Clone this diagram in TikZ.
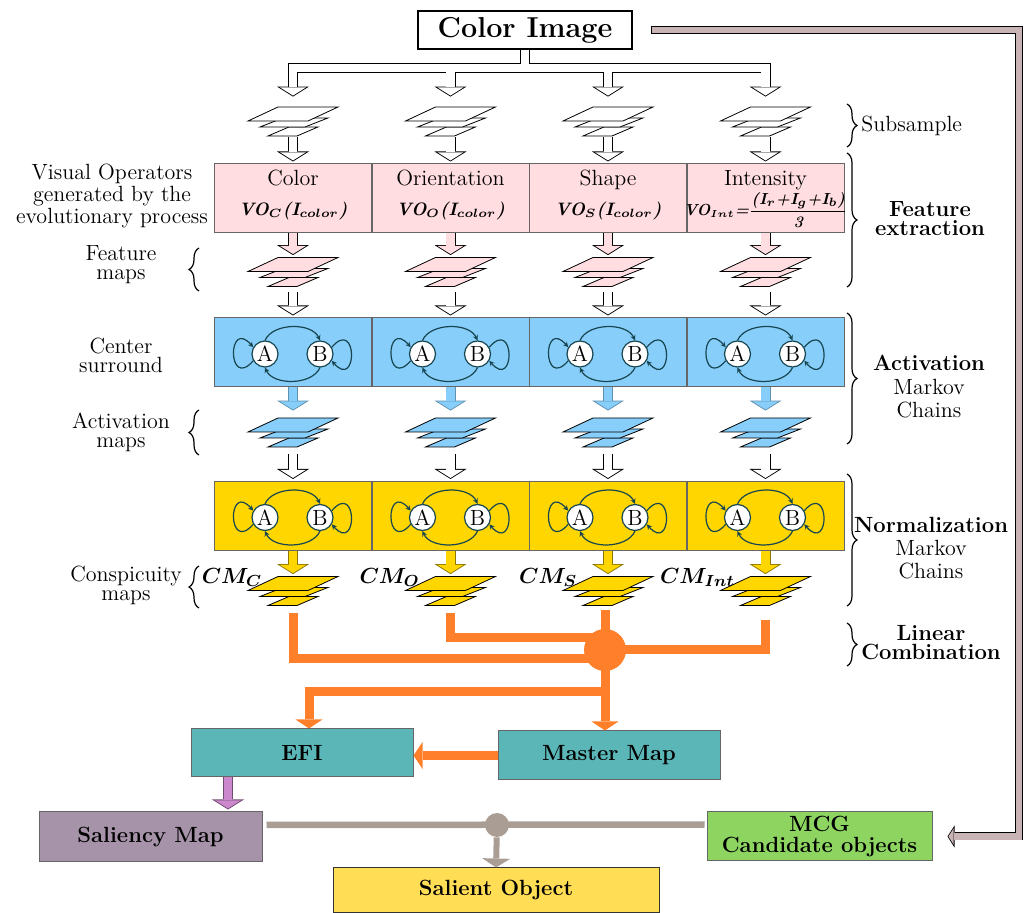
\documentclass[tikz,border=0pt]{standalone}
\usepackage{xcolor}
\usepackage{amsmath, amssymb}
\usepackage{tikz}
\usetikzlibrary{arrows.meta, positioning, decorations.pathreplacing}

\definecolor{fepink}{RGB}{255,221,224}
\definecolor{acblue}{RGB}{135,206,250}
\definecolor{nmgold}{RGB}{255,214,0}
\definecolor{lcorange}{RGB}{255,127,42}
\definecolor{mkteal}{RGB}{24,70,80}
\definecolor{mapteal}{RGB}{91,182,183}
\definecolor{salmauve}{RGB}{166,147,170}
\definecolor{mcggreen}{RGB}{141,212,97}
\definecolor{objyellow}{RGB}{255,221,85}
\definecolor{fusegray}{RGB}{170,157,148}
\definecolor{feedrose}{RGB}{200,180,180}
\definecolor{efipurple}{RGB}{204,136,204}

\tikzset{
  lbl/.style={font=\fontsize{11}{9.5}\selectfont, align=center, inner sep=0pt},
  opbox/.style={draw=black!60, line width=0.5pt, fill=#1, minimum width=78.5pt, minimum height=34.5pt, inner sep=0pt},
  mapbox/.style={draw=black!60, line width=0.5pt, fill=#1, minimum width=111pt, minimum height=24.5pt, inner sep=0pt, align=center, font=\fontsize{11}{10.5}\selectfont\bfseries},
  stk/.style={minimum width=45pt, minimum height=15pt, inner sep=0pt},
  st/.style={circle, draw=mkteal, line width=0.6pt, fill=white, minimum size=13pt, inner sep=0pt, font=\fontsize{11}{11}\selectfont},
  mk/.style={draw=mkteal, line width=0.6pt, -{Stealth[length=2.6pt,width=2.6pt]}},
  hout/.style={draw=#1, line width=5pt, shorten >=1pt, -{Triangle[length=5pt,width=16pt,line width=0pt]}},
  hout/.default=black,
  hin/.style={draw=#1, line width=4.1pt, shorten >=1.53pt, -{Triangle[length=4.02pt,width=12.86pt,line width=0pt]}},
  fbout/.style={draw=black, line width=4pt, -{Triangle[length=3.5pt,width=11pt,line width=0pt]}},
  fbin/.style={draw=feedrose, line width=3.2pt, shorten <=0.4pt, shorten >=0.47pt, -{Triangle[length=2.63pt,width=8.25pt,line width=0pt]}},
  fuse/.style={draw=lcorange, line width=4.5pt},
  fusearr/.style={fuse, -{Triangle[length=4.5pt,width=13.5pt,line width=0pt]}},
  gline/.style={draw=fusegray, line width=3.25pt, shorten <=2pt, shorten >=1pt},
  garr/.style={draw=fusegray, line width=3pt, -{Triangle[length=4.5pt,width=14pt,line width=0pt]}},
  brc/.style={decorate, decoration={brace, amplitude=5pt}, line width=0.6pt},
  cmlab/.style={font=\fontsize{11}{11}\selectfont\bfseries\itshape\boldmath, inner sep=0pt},
  pics/layers/.style={code={
    \filldraw[fill=#1, line width=0.4pt] (-25,22) -- (4,22) -- (25,13) -- (-4,13) -- cycle;
    \filldraw[fill=#1, line width=0.4pt] (-33,13) -- (12,13) -- (35,4) -- (-10,4) -- cycle;
    \filldraw[fill=#1, line width=0.4pt] (-45,7) -- (15,7) -- (45,-7) -- (-15,-7) -- cycle;
  }},
}

\begin{document}
\begin{tikzpicture}[x=0.5pt, y=-0.5pt]
\useasboundingbox (0,0) rectangle (1029,913);

\node[draw, line width=0.8pt, minimum width=107pt, minimum height=19pt, inner sep=0pt, font=\Large\bfseries] (img) at (525,30) {Color Image};

% one column per feature; every column runs through the same ladder
% of map stacks and boxes, only the fill changes from row to row
\foreach \i/\x in {1/293,2/450.5,3/608,4/765.5} {
  \node[stk] (sub\i) at (\x,122) {};
  \pic at (\x,114) {layers=white};
  \node[opbox=fepink] (fe\i) at (\x,198.5) {};
  \node[stk] (fm\i) at (\x,272.5) {};
  \pic at (\x,264.5) {layers=fepink};
  \node[opbox=acblue] (ac\i) at (\x,352.5) {};
  \node[stk] (am\i) at (\x,433) {};
  \pic at (\x,425) {layers=acblue};
  \node[opbox=nmgold] (nm\i) at (\x,516) {};
  \node[stk] (cm\i) at (\x,591.5) {};
  \pic at (\x,583.5) {layers=nmgold};
}

\foreach \i/\t/\f in {1/Color/{VO$_C$(I$_{color}$)},2/Orientation/{VO$_O$(I$_{color}$)},3/Shape/{VO$_S$(I$_{color}$)},4/Intensity/{\fontsize{8}{8}\selectfont VO$_{\scriptscriptstyle Int}$=$\dfrac{\text{(I$_r$+I$_g$+I$_b$)}}{\text{3}}$}} {
  \node[lbl, anchor=base] (ft\i) at ([yshift=-11pt]fe\i.north) {\t};
  \node[lbl, anchor=base, font=\fontsize{9}{9}\selectfont\bfseries\itshape\boldmath] (fq\i) at ([yshift=-26pt]fe\i.north) {\f};
}

% two-state chains inside the activation and normalization boxes
\foreach \b in {ac1,ac2,ac3,ac4,nm1,nm2,nm3,nm4} {
  \node[st] (a\b) at ([xshift=-14pt,yshift=-0.75pt]\b.center) {A};
  \node[st] (b\b) at ([xshift=13.5pt,yshift=-0.75pt]\b.center) {B};
  \draw[mk] (a\b.north) .. controls +(8,-18) and +(-8,-18) .. (b\b.north);
  \draw[mk] (b\b.south) .. controls +(-8,18) and +(8,18) .. (a\b.south);
  \draw[mk] (a\b.210) .. controls +(-26,30) and +(-26,-30) .. (a\b.150);
  \draw[mk] (b\b.30) .. controls +(26,-30) and +(26,30) .. (b\b.-30);
}

% hollow arrows: all black bodies first, then the fills, so that the
% branches out of the colour image merge into one channel
\foreach \i in {1,...,4}
  \draw[hout] (img.south) -- ++(0,18) -| ([yshift=4pt]sub\i.north);
\foreach \i in {1,...,4}
  \draw[hin=white] (img.south) -- ++(0,18) -| ([yshift=4pt]sub\i.north);

\foreach \i in {1,...,4} {
  \draw[hout] (sub\i.south) -- (fe\i.north);
  \draw[hin=white] (sub\i.south) -- (fe\i.north);
  \draw[hout] (fe\i.south) -- (fm\i.north);
  \draw[hin=fepink] (fe\i.south) -- (fm\i.north);
  \draw[hout] ([yshift=-2pt]fm\i.south) -- (ac\i.north);
  \draw[hin=white] ([yshift=-2pt]fm\i.south) -- (ac\i.north);
  \draw[hout=acblue!70!black] (ac\i.south) -- ([yshift=2.5pt]am\i.north);
  \draw[hin=acblue] (ac\i.south) -- ([yshift=2.5pt]am\i.north);
  \draw[hout] ([yshift=-3pt]am\i.south) -- (nm\i.north);
  \draw[hin=white] ([yshift=-3pt]am\i.south) -- (nm\i.north);
  \draw[hout=nmgold!55!black] (nm\i.south) -- (cm\i.north);
  \draw[hin=nmgold] (nm\i.south) -- (cm\i.north);
}

\foreach \i/\s in {1/C,2/O,3/S,4/Int}
  \node[cmlab, left=-7.5pt of cm\i, yshift=7pt] (cml\i) {$CM_{\s}$};

% linear combination
\node[circle, fill=lcorange, minimum size=21pt, inner sep=0pt] (sum) at (605,650) {};
\coordinate (br) at (605,692);
\draw[fuse] ([yshift=-3pt]cm1.south) |- ([yshift=-4.5pt]sum.center);
\draw[fuse] ([yshift=-3pt]cm2.south) |- ([yshift=6pt]sum.center);
\draw[fuse] (cm3.south -| sum) ++(0,3) -- (sum.center);
\draw[fuse] (cm4.south) ++(0,13) |- (sum.center);

\node[mapbox=mapteal, minimum height=24pt] (efi) at (302,753) {EFI};
\node[mapbox=mapteal] (mm) at (609,755.5) {Master Map};
\node[mapbox=salmauve, minimum width=111.5pt, minimum height=25pt] (sal) at (150.5,837) {Saliency Map};
\node[mapbox=mcggreen, minimum width=112.5pt] (mcg) at (819.5,836.5) {MCG\\Candidate objects};
\node[mapbox=objyellow, draw=black!80, minimum width=163pt, minimum height=22.5pt] (so) at (496,890.5) {Salient Object};

\draw[fusearr] (sum.center) -- (sum |- mm.north);
\draw[fusearr] (br) -| ([xshift=3.5pt]efi.north);
\draw[fusearr] (mm.west) -- (mm.west -| efi.east);

\coordinate (efo) at ([xshift=-37pt]efi.south);
\draw[hout=efipurple!55!black] (efo) -- (efo |- sal.north);
\draw[hin=efipurple] (efo) -- (efo |- sal.north);

\node[circle, fill=fusegray, minimum size=12pt, inner sep=0pt] (gj) at (497,825) {};
\draw[gline] ([yshift=6pt]sal.east) -- ([yshift=6pt]mcg.west);
\draw[garr] (gj) -- (so.north);

% candidate objects come straight from the colour image
\coordinate (fbs) at ([xshift=9pt]img.east);
\coordinate (fbc) at (1019,30);
\coordinate (fbe) at ([xshift=7.5pt]mcg.east);
\draw[fbout] (fbs) -- (fbc) |- (fbe);
\draw[fbin] (fbs) -- (fbc) |- (fbe);

% stage braces and their labels
\draw[brc] (847,104) -- (847,147);
\draw[brc] (847,153) -- (847,287);
\draw[brc] (847,313) -- (847,444);
\draw[brc] (847,474) -- (847,606);
\draw[brc] (847,623) -- (847,666);
\draw[brc] (199,291) -- (199,248);
\draw[brc] (199,455) -- (199,410);
\draw[brc] (199,608) -- (199,566);

\node[lbl, anchor=west] (subs) at (861,126) {Subsample};
\node[lbl, font=\fontsize{11}{9.5}\selectfont\bfseries] (fext) at (930,219) {Feature\\extraction};
\node[lbl, font=\fontsize{11}{11.75}\selectfont] (actl) at (929,387) {\textbf{Activation}\\Markov\\Chains};
\node[lbl, font=\fontsize{11}{11.5}\selectfont] (norml) at (931,548) {\textbf{Normalization}\\Markov\\Chains};
\node[lbl, font=\fontsize{11}{9.5}\selectfont\bfseries] (linc) at (931,642.5) {Linear\\Combination};

\node[lbl] (vop) at (112,196) {Visual Operators\\generated by the\\evolutionary process};
\node[lbl] (fmap) at (121,265) {Feature\\maps};
\node[lbl] (csur) at (121,355) {Center\\surround};
\node[lbl] (amap) at (121,432) {Activation\\maps};
\node[lbl] (cmap) at (126,585) {Conspicuity\\maps};
\end{tikzpicture}
\end{document}
